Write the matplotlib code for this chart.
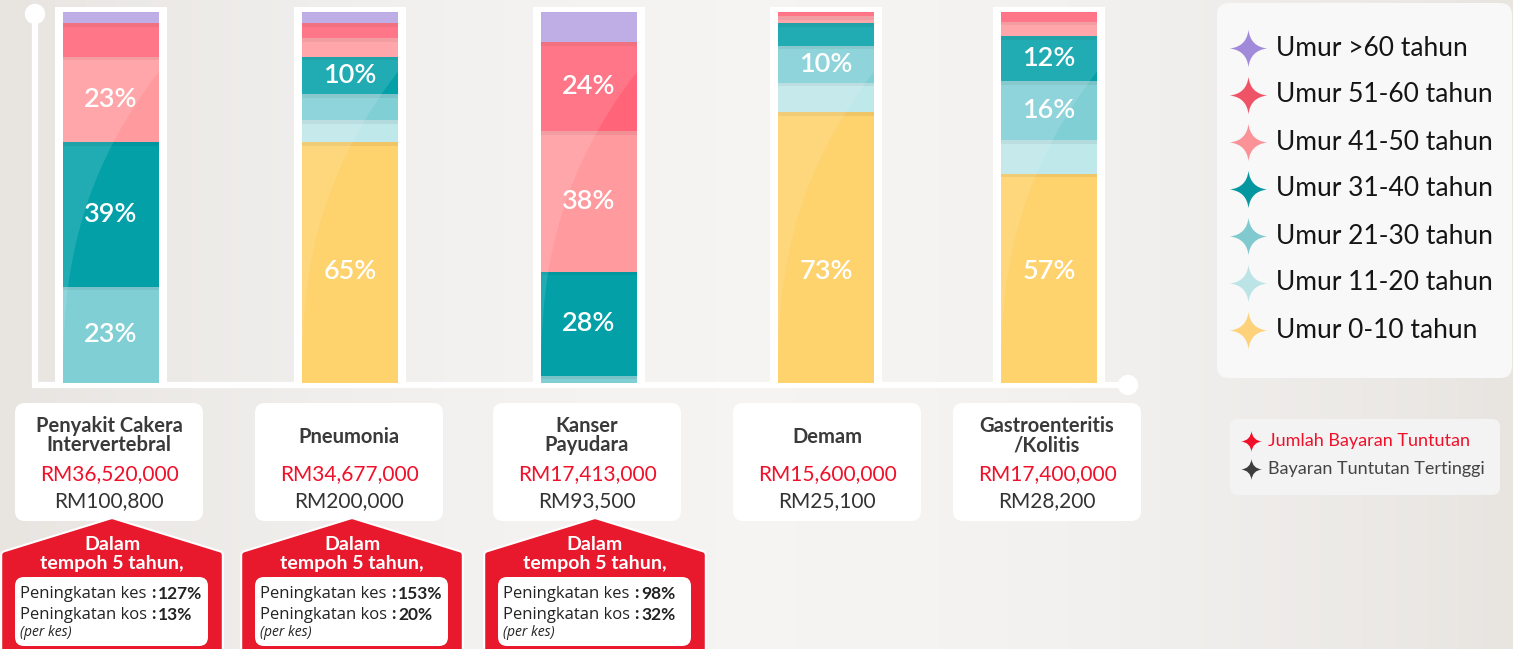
import numpy as np
import matplotlib
matplotlib.use('Agg')
import matplotlib.pyplot as plt
from matplotlib.path import Path
from matplotlib.patches import FancyBboxPatch, Polygon, Rectangle, Circle

plt.rcParams['font.family'] = ['Lato', 'DejaVu Sans']

# ---- data ----
age_groups = ['Umur >60 tahun', 'Umur 51-60 tahun', 'Umur 41-50 tahun', 'Umur 31-40 tahun',
              'Umur 21-30 tahun', 'Umur 11-20 tahun', 'Umur 0-10 tahun']
diseases = [['Penyakit Cakera', 'Intervertebral'], ['Pneumonia'], ['Kanser', 'Payudara'],
            ['Demam'], ['Gastroenteritis', '/Kolitis']]

# share of claims by age group, same order as age_groups (%)
share_cakera = [3, 9, 23, 39, 26, 0, 0]
share_pneumonia = [3, 4, 5, 10, 7, 6, 65]
share_kanser = [8, 24, 38, 28, 2, 0, 0]
share_demam = [0, 1, 2, 6, 10, 8, 73]
share_gastro = [0, 2.5, 4, 12, 16, 9, 56.5]
shares = [share_cakera, share_pneumonia, share_kanser, share_demam, share_gastro]

# percentage labels printed on the bars
labels_cakera = ['', '', '23%', '39%', '23%', '', '']
labels_pneumonia = ['', '', '', '10%', '', '', '65%']
labels_kanser = ['', '24%', '38%', '28%', '', '', '']
labels_demam = ['', '', '', '', '10%', '', '73%']
labels_gastro = ['', '', '', '12%', '16%', '', '57%']
bar_labels = [labels_cakera, labels_pneumonia, labels_kanser, labels_demam, labels_gastro]

total_claims = ['RM36,520,000', 'RM34,677,000', 'RM17,413,000', 'RM15,600,000', 'RM17,400,000']
highest_claim = ['RM100,800', 'RM200,000', 'RM93,500', 'RM25,100', 'RM28,200']
case_increase = ['127%', '153%', '98%']
cost_increase = ['13%', '20%', '32%']

# ---- style ----
colors = ['#B7A3E3', '#FF6478', '#FF9A9F', '#03A0A8', '#80CFD5', '#BFE8EA', '#FED26C']
legend_colors = ['#A28ADB', '#EE5465', '#FB9298', '#05979F', '#80C9CF', '#BCE4E7', '#FDD27A']
red = '#E8192C'
dark = '#3A3A3A'

W, H = 1513, 649
fig = plt.figure(figsize=(W / 100, H / 100), dpi=100)
fig.patch.set_facecolor('#EDEBE8')

bg = fig.add_axes([0, 0, 1, 1], zorder=0)
bg.set_xlim(0, W)
bg.set_ylim(H, 0)
bg.axis('off')

# soft background gradient
gx = np.linspace(0, 1, 300)
grad = np.tile(0.5 + 0.5 * np.sin(gx * np.pi), (10, 1))
bg.imshow(grad, extent=[0, W, H, 0], cmap=matplotlib.colors.LinearSegmentedColormap.from_list(
    'bgc', ['#E8E5E1', '#F5F4F3']), aspect='auto', zorder=0)

bar_x = [111, 350, 589, 826, 1049]
bar_w = 96
y_bot, y_top = 383, 12.3

# white frames around bars
for x in bar_x:
    bg.add_patch(Rectangle((x - 56, 7), 112, y_bot - 7 + 2, facecolor='white', edgecolor='none', zorder=1))

# axis lines with dots
bg.plot([35, 35], [14, 385], color='white', lw=4.5, zorder=2, solid_capstyle='butt')
bg.plot([35, 1128], [385, 385], color='white', lw=4.5, zorder=2)
bg.add_patch(Circle((35, 14), 9.5, color='white', zorder=3))
bg.add_patch(Circle((1128, 385), 9.5, color='white', zorder=3))

# ---- stacked bars ----
ax = fig.add_axes([0, 1 - y_bot / H, 1, (y_bot - y_top) / H], zorder=2)
ax.set_xlim(0, W)
ax.set_ylim(0, 100)
ax.axis('off')
ax.patch.set_alpha(0)

vals = np.array(shares)          # bars x groups
bottom = np.zeros(len(bar_x))
tops = []
for j in range(len(age_groups) - 1, -1, -1):
    ax.bar(bar_x, vals[:, j], width=bar_w, bottom=bottom, color=colors[j], linewidth=0, zorder=2)
    for i, x in enumerate(bar_x):
        txt = bar_labels[i][j]
        if txt:
            yc = bottom[i] + vals[i, j] / 2
            if j == len(age_groups) - 1:
                yc = 30
            ax.text(x, yc, txt, ha='center', va='center', color='white', fontsize=19.5,
                    fontweight='semibold', zorder=5)
    bottom = bottom + vals[:, j]
    tops.append(bottom.copy())

# subtle shadow under each segment boundary
for t in tops[:-1]:
    for i, x in enumerate(bar_x):
        if 0.5 < t[i] < 99.5:
            ax.bar(x, 1.0, width=bar_w, bottom=t[i] - 1.0, color='k', alpha=0.06, linewidth=0, zorder=3)

# glossy highlight
yy = np.linspace(0, 84, 40)
for x in bar_x:
    L = x - bar_w / 2
    xs = L + bar_w * (yy / 84) ** 2.5
    pts = [(L, 0)] + list(zip(xs, yy)) + [(L + bar_w, 100), (L, 100)]
    ax.add_patch(Polygon(pts, closed=True, facecolor='white', alpha=0.12, edgecolor='none', zorder=4))

# ---- legend ----
star = Path([(0, 1), (0.1, 0.1), (1, 0), (0.1, -0.1), (0, -1), (-0.1, -0.1), (-1, 0), (-0.1, 0.1), (0, 1), (0, 1)],
            [Path.MOVETO] + [Path.CURVE3] * 8 + [Path.CLOSEPOLY])

top = fig.add_axes([0, 0, 1, 1], zorder=3)
top.set_xlim(0, W)
top.set_ylim(H, 0)
top.axis('off')
top.patch.set_alpha(0)

top.add_patch(FancyBboxPatch((1217, 3), 295, 375, boxstyle='round,pad=0,rounding_size=12',
                             facecolor='#F8F8F8', edgecolor='none'))
leg_y = [48, 95, 142, 189, 236, 283, 330]
for k, name in enumerate(age_groups):
    top.plot(1248, leg_y[k], marker=star, ms=27, color=legend_colors[k], mec='none')
    top.text(1276, leg_y[k], name, ha='left', va='center', fontsize=19, color='#151515')

top.add_patch(FancyBboxPatch((1230, 419), 270, 76, boxstyle='round,pad=0,rounding_size=8',
                             facecolor='#F3F3F3', edgecolor='none'))
top.plot(1251, 441, marker=star, ms=15, color='#F0102A', mec='none')
top.text(1268, 441, 'Jumlah Bayaran Tuntutan', ha='left', va='center', fontsize=13, color='#F0102A')
top.plot(1251, 469, marker=star, ms=15, color='#3C3C3C', mec='none')
top.text(1268, 469, 'Bayaran Tuntutan Tertinggi', ha='left', va='center', fontsize=13, color='#444444')

# ---- info boxes under bars ----
box_left = [15, 255, 493, 733, 953]
for i, x in enumerate(bar_x):
    bl = box_left[i]
    cx = bl + 94
    top.add_patch(FancyBboxPatch((bl, 403), 188, 118, boxstyle='round,pad=0,rounding_size=10',
                                 facecolor='white', edgecolor='none'))
    title = diseases[i]
    if len(title) == 2:
        top.text(cx, 426, title[0], ha='center', va='center', fontsize=14.5, fontweight='bold', color=dark)
        top.text(cx, 445, title[1], ha='center', va='center', fontsize=14.5, fontweight='bold', color=dark)
    else:
        top.text(cx, 437, title[0], ha='center', va='center', fontsize=14.5, fontweight='bold', color=dark)
    top.text(cx, 474, total_claims[i], ha='center', va='center', fontsize=15, color='#F0102A')
    top.text(cx, 501, highest_claim[i], ha='center', va='center', fontsize=15, color='#333333')

# ---- red badges (5-year change) ----
badge_left = [5, 245, 488]
row_font = ['Open Sans', 'DejaVu Sans']
for i, L in enumerate(badge_left):
    R = L + 214
    C = (L + R) / 2
    pts = [(L, 555), (C, 522), (R, 555), (R, 680), (L, 680)]
    top.add_patch(Polygon(pts, closed=True, facecolor='white', edgecolor='white', lw=7, joinstyle='round'))
    top.add_patch(Polygon(pts, closed=True, facecolor=red, edgecolor=red, lw=4, joinstyle='round'))
    top.text(C, 545, 'Dalam', ha='center', va='center', fontsize=14, fontweight='bold', color='white')
    top.text(C, 563, 'tempoh 5 tahun,', ha='center', va='center', fontsize=14, fontweight='bold', color='white')
    top.add_patch(FancyBboxPatch((L + 10, 577), 193, 69, boxstyle='round,pad=0,rounding_size=9',
                                 facecolor='white', edgecolor='none'))
    top.text(L + 15, 594, 'Peningkatan kes', ha='left', va='center', fontsize=12, color='#222222', family=row_font)
    top.text(L + 15, 615, 'Peningkatan kos', ha='left', va='center', fontsize=12, color='#222222', family=row_font)
    top.text(L + 148, 593, ':', ha='center', va='center', fontsize=12.5, fontweight='bold', color='#222222')
    top.text(L + 148, 614, ':', ha='center', va='center', fontsize=12.5, fontweight='bold', color='#222222')
    top.text(L + 153, 594, case_increase[i], ha='left', va='center', fontsize=12.5, fontweight='bold', color='#222222')
    top.text(L + 153, 615, cost_increase[i], ha='left', va='center', fontsize=12.5, fontweight='bold', color='#222222')
    top.text(L + 15, 632, '(per kes)', ha='left', va='center', fontsize=10, style='italic', color='#222222',
             family=row_font)

fig.savefig('out.png', dpi=100, facecolor=fig.get_facecolor())
